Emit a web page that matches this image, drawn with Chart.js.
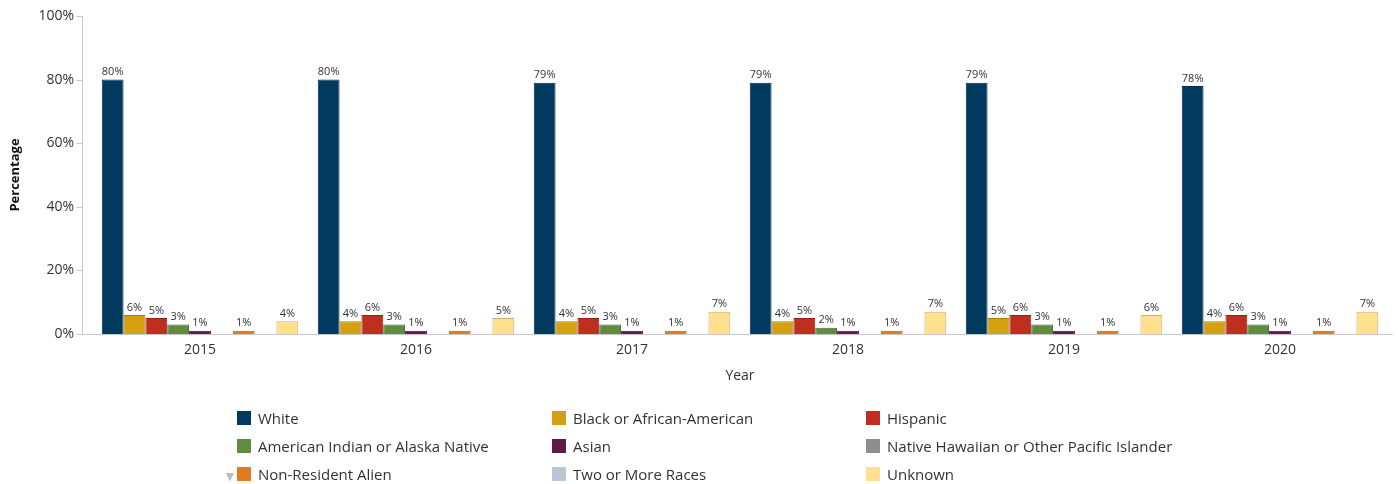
<!DOCTYPE html>
<html>
<head>
<meta charset="utf-8">
<script src="https://cdn.jsdelivr.net/npm/chart.js@4.4.1/dist/chart.umd.min.js"></script>
<style>
  html, body { margin: 0; padding: 0; background: #fff; }
  #wrap { position: relative; width: 1398px; height: 484px; }
  #chart { position: absolute; left: 0; top: 0; }
  #legend { position: absolute; left: 0; top: 0; width: 1398px; height: 484px; pointer-events: none;
            font-family: "Open Sans", sans-serif; font-size: 15px; color: #333; }
  .item { position: absolute; display: flex; align-items: center; white-space: nowrap; line-height: 18px; }
  .box { width: 14px; height: 14px; margin-right: 7px; }
  #more { position: absolute; left: 223px; top: 469px; color: #bbb; font-size: 14px; }
</style>
</head>
<body>
<div id="wrap">
  <canvas id="chart" width="1398" height="484"></canvas>
  <div id="legend"></div>
  <div id="more">&#9660;</div>
</div>
<script>
window.addEventListener("DOMContentLoaded", function() {
    const years = ["2015", "2016", "2017", "2018", "2019", "2020"];
    const yTicks = [0, 20, 40, 60, 80, 100];

    const white = [80, 80, 79, 79, 79, 78];
    const black = [6, 4, 4, 4, 5, 4];
    const hispanic = [5, 6, 5, 5, 6, 6];
    const amIndian = [3, 3, 3, 2, 3, 3];
    const asian = [1, 1, 1, 1, 1, 1];
    const hawaiian = [null, null, null, null, null, null];
    const nonResident = [1, 1, 1, 1, 1, 1];
    const twoOrMore = [null, null, null, null, null, null];
    const unknown = [4, 5, 7, 7, 6, 7];

    const series = [
        { label: "White", data: white, fill: "#003a5f", border: "#002a45" },
        { label: "Black or African-American", data: black, fill: "#d49f10", border: "#a87c08" },
        { label: "Hispanic", data: hispanic, fill: "#bf2e1e", border: "#962012" },
        { label: "American Indian or Alaska Native", data: amIndian, fill: "#5f8c42", border: "#476e30" },
        { label: "Asian", data: asian, fill: "#5e1a48", border: "#440f33" },
        { label: "Native Hawaiian or Other Pacific Islander", data: hawaiian, fill: "#8e8e92", border: "#707074" },
        { label: "Non-Resident Alien", data: nonResident, fill: "#e07b1f", border: "#b85f10" },
        { label: "Two or More Races", data: twoOrMore, fill: "#b9c6d3", border: "#9aa8b6" },
        { label: "Unknown", data: unknown, fill: "#ffe08f", border: "#c9b06e" }
    ];

    // legend: three columns, filled row by row
    const legendEl = document.getElementById("legend");
    const colX = [237, 552, 866];
    const rowY = [409, 437, 465];
    series.forEach(function(s, i) {
        const item = document.createElement("div");
        item.className = "item";
        item.style.left = colX[i % 3] + "px";
        item.style.top = rowY[Math.floor(i / 3)] + "px";
        const box = document.createElement("span");
        box.className = "box";
        box.style.background = s.fill;
        item.appendChild(box);
        item.appendChild(document.createTextNode(s.label));
        legendEl.appendChild(item);
    });

    // axis lines drawn a little outside the category area
    const axisLines = {
        id: "axisLines",
        afterDraw(chart) {
            const ctx = chart.ctx;
            const y = chart.scales.y;
            const area = chart.chartArea;
            const axisX = area.left - 9.5;
            ctx.save();
            ctx.strokeStyle = "#c8c8c8";
            ctx.lineWidth = 1;
            ctx.beginPath();
            ctx.moveTo(axisX, area.top);
            ctx.lineTo(axisX, area.bottom);
            yTicks.forEach(function(t) {
                const py = Math.round(y.getPixelForValue(t)) + 0.5;
                ctx.moveTo(axisX - 6, py);
                ctx.lineTo(axisX, py);
            });
            ctx.moveTo(axisX, Math.round(area.bottom) + 0.5);
            ctx.lineTo(area.right + 5, Math.round(area.bottom) + 0.5);
            ctx.stroke();
            ctx.restore();
        }
    };

    // value labels above each bar
    const valueLabels = {
        id: "valueLabels",
        afterDatasetsDraw(chart) {
            const ctx = chart.ctx;
            ctx.save();
            ctx.font = "11px 'Open Sans', sans-serif";
            ctx.fillStyle = "#333";
            ctx.textAlign = "center";
            ctx.textBaseline = "bottom";
            chart.data.datasets.forEach(function(ds, i) {
                chart.getDatasetMeta(i).data.forEach(function(bar, j) {
                    const v = ds.data[j];
                    if (v == null) return;
                    ctx.fillText(v + "%", bar.x, bar.y - 2);
                });
            });
            ctx.restore();
        }
    };

    const ctx = document.getElementById("chart");
    new Chart(ctx, {
        type: "bar",
        data: {
            labels: years,
            datasets: series.map(function(s) {
                return {
                    label: s.label,
                    data: s.data,
                    backgroundColor: s.fill,
                    borderColor: s.border,
                    borderWidth: 1,
                    borderSkipped: "bottom",
                    categoryPercentage: 0.91,
                    barPercentage: 1.0
                };
            })
        },
        options: {
            responsive: false,
            animation: false,
            layout: { padding: { left: 4, right: 10, top: 16, bottom: 100 } },
            plugins: {
                legend: { display: false },
                tooltip: { enabled: false }
            },
            scales: {
                x: {
                    grid: { display: false, drawTicks: false },
                    border: { display: false },
                    ticks: { color: "#333", font: { family: "Open Sans", size: 14 }, padding: 8 },
                    title: { display: true, text: "Year", color: "#333", font: { family: "Open Sans", size: 14 }, padding: { top: 6, bottom: 0 } },
                    afterFit: function(s) { s.height = 50; }
                },
                y: {
                    min: 0,
                    max: 100,
                    grid: { display: false, drawTicks: false },
                    border: { display: false },
                    afterBuildTicks: function(s) { s.ticks = yTicks.map(function(v) { return { value: v }; }); },
                    ticks: {
                        color: "#333",
                        font: { family: "Open Sans", size: 14 },
                        padding: 18,
                        callback: function(v) { return v + "%"; }
                    },
                    title: { display: true, text: "Percentage", color: "#111", font: { family: "Open Sans", size: 13, weight: "bold" }, padding: { top: 3, bottom: 0 } },
                    afterFit: function(s) {
                        s.width = 88;
                        s.paddingTop = 0;
                        s.paddingBottom = 0;
                    }
                }
            }
        },
        plugins: [axisLines, valueLabels]
    });
});
</script>
</body>
</html>
